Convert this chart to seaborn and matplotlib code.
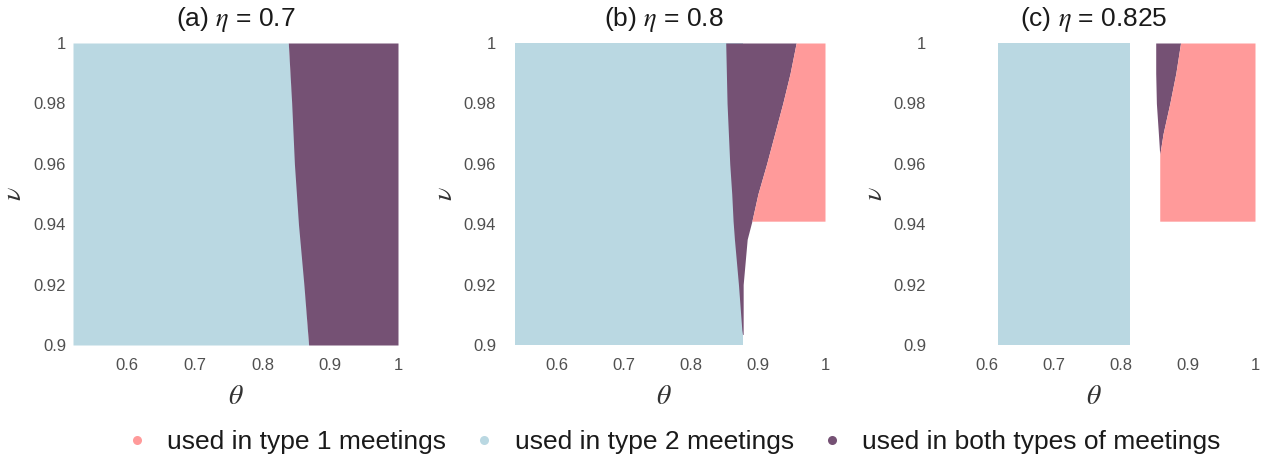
import seaborn as sns
import matplotlib.pyplot as plt
from matplotlib.lines import Line2D

sns.set_theme(style="white")
plt.rcParams['font.family'] = ['Liberation Sans', 'DejaVu Sans']
plt.rcParams['mathtext.fontset'] = 'stix'

# region colours
c_type1 = '#FF9A9A'
c_type2 = '#BAD8E2'
c_both = '#755174'

titles = ['(a) $\\eta$ = 0.7', '(b) $\\eta$ = 0.8', '(c) $\\eta$ = 0.825']
legend_labels = ['used in type 1 meetings', 'used in type 2 meetings',
                 'used in both types of meetings']

x_ticks = [0.6, 0.7, 0.8, 0.9, 1.0]
x_ticklabels = ['0.6', '0.7', '0.8', '0.9', '1']
y_ticks = [0.90, 0.92, 0.94, 0.96, 0.98, 1.00]
y_ticklabels = ['0.9', '0.92', '0.94', '0.96', '0.98', '1']

# (a) eta = 0.7
a_type2_nu = [0.90, 1.00]
a_type2_left = [0.52, 0.52]
a_type2_right = [0.868, 0.838]
a_both_nu = [0.90, 0.92, 0.94, 0.96, 0.98, 1.00]
a_both_left = [0.868, 0.861, 0.853, 0.847, 0.843, 0.838]
a_both_right = [1.0, 1.0, 1.0, 1.0, 1.0, 1.0]

# (b) eta = 0.8
b_type2_nu = [0.90, 1.00]
b_type2_left = [0.538, 0.538]
b_type2_right = [0.878, 0.878]
b_both_nu = [0.9035, 0.905, 0.92, 0.935, 0.941, 0.95, 0.96, 0.98, 0.99, 1.00]
b_both_left = [0.877, 0.876, 0.871, 0.865, 0.863, 0.861, 0.858, 0.854, 0.853, 0.852]
b_both_right = [0.878, 0.878, 0.878, 0.884, 0.891, 0.900, 0.913, 0.937, 0.948, 0.957]
b_type1_nu = [0.941, 0.95, 0.96, 0.98, 0.99, 1.00]
b_type1_left = [0.891, 0.900, 0.913, 0.937, 0.948, 0.957]
b_type1_right = [1.0, 1.0, 1.0, 1.0, 1.0, 1.0]

# (c) eta = 0.825
c_type2_nu = [0.90, 1.00]
c_type2_left = [0.617, 0.617]
c_type2_right = [0.814, 0.814]
c_both_nu = [0.963, 0.97, 0.98, 0.99, 1.00]
c_both_left = [0.858, 0.856, 0.853, 0.852, 0.852]
c_both_right = [0.858, 0.863, 0.873, 0.882, 0.889]
c_type1_nu = [0.941, 0.963, 0.97, 0.98, 0.99, 1.00]
c_type1_left = [0.858, 0.858, 0.863, 0.873, 0.882, 0.889]
c_type1_right = [1.0, 1.0, 1.0, 1.0, 1.0, 1.0]

panels = [
    [(a_type2_nu, a_type2_left, a_type2_right, c_type2),
     (a_both_nu, a_both_left, a_both_right, c_both)],
    [(b_type2_nu, b_type2_left, b_type2_right, c_type2),
     (b_both_nu, b_both_left, b_both_right, c_both),
     (b_type1_nu, b_type1_left, b_type1_right, c_type1)],
    [(c_type2_nu, c_type2_left, c_type2_right, c_type2),
     (c_both_nu, c_both_left, c_both_right, c_both),
     (c_type1_nu, c_type1_left, c_type1_right, c_type1)],
]

fig = plt.figure(figsize=(12.65, 4.59), dpi=100)
lefts = [73, 503, 933]
widths = [325, 322, 322]
tick_col = '#505050'

for i in range(3):
    ax = fig.add_axes([lefts[i] / 1265, 114 / 459, widths[i] / 1265, 302 / 459])
    for nu, lo, hi, col in panels[i]:
        ax.fill_betweenx(nu, lo, hi, color=col, lw=0)
    ax.set_xlim(0.52, 1.0)
    ax.set_ylim(0.9, 1.0)
    ax.set_xticks(x_ticks)
    ax.set_xticklabels(x_ticklabels)
    ax.set_yticks(y_ticks)
    ax.set_yticklabels(y_ticklabels)
    ax.tick_params(length=0, labelsize=12, colors=tick_col)
    ax.tick_params(axis='x', pad=9)
    ax.tick_params(axis='y', pad=5)
    sns.despine(ax=ax, left=True, bottom=True)
    ax.set_xlabel('$\\theta$', fontsize=20, color='#333333')
    ax.set_ylabel('$\\nu$', fontsize=20, color='#333333')
    ax.xaxis.set_label_coords(0.5, -0.13)
    ax.yaxis.set_label_coords(-0.14, 0.5)
    ax.set_title(titles[i], fontsize=19, pad=12, color='#1a1a1a')

handles = [Line2D([], [], ls='', marker='o', markersize=6.5, markeredgewidth=0,
                  color=c) for c in [c_type1, c_type2, c_both]]
fig.legend(handles, legend_labels, loc='center', ncol=3, frameon=False,
           bbox_to_anchor=(672 / 1265, 1 - 442 / 459), fontsize=19,
           handlelength=1.0, handletextpad=0.65, columnspacing=0.95,
           labelcolor='#1a1a1a')

plt.savefig('out.png', dpi=100)
